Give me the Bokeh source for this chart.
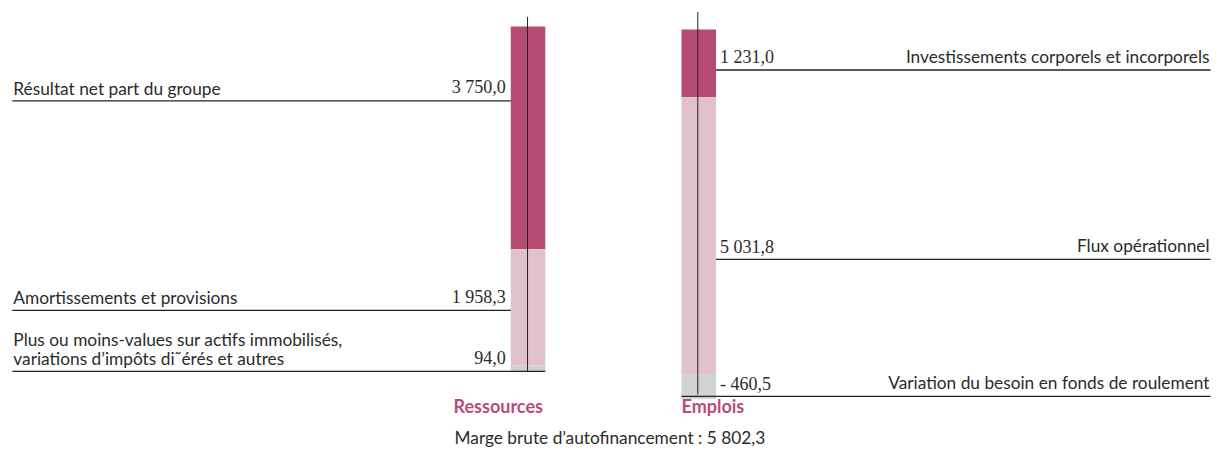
from bokeh.plotting import figure
from bokeh.models import Range1d
from bokeh.core.properties import value
from bokeh.embed import file_html
from bokeh.resources import INLINE

# ---------------- data ----------------
res_labels = ["Résultat net part du groupe",
              "Amortissements et provisions",
              "Plus ou moins-values sur actifs immobilisés,\nvariations d’impôts di˜érés et autres"]
res_values = [3750.0, 1958.3, 94.0]
emp_labels = ["Investissements corporels et incorporels",
              "Flux opérationnel",
              "Variation du besoin en fonds de roulement"]
emp_values = [1231.0, 5031.8, -460.5]
group_titles = ["Ressources", "Emplois"]
total_label = "Marge brute d’autofinancement"

# ---------------- styles / layout ----------------
seg_colors = ["#B54A73", "#E2C2CA", "#D1D2D4"]
title_color = "#B94B7A"
text_color = "#2b2b2b"
line_color = "#222222"
sans = value("Lato")
serif = value("Liberation Serif")
TXT_DY = 8  # baseline compensation

def fr(v):
    s = f"{abs(v):,.1f}".replace(",", " ").replace(".", ",")
    return ("- " + s) if v < 0 else s

# layout coordinates (reference-pixel units)
W_REF, H_REF = 1227, 465
L_X0, L_X1, L_TOP, L_BOT = 517, 552, 27, 384
R_X0, R_X1, R_TOP, R_BOT = 690, 725, 30, 413
left_line_y = [104, 321, 384]
right_line_y = [72, 268, 410]

p = figure(width=1211, height=449, x_range=Range1d(0, W_REF),
           y_range=Range1d(H_REF, 0), output_backend="svg",
           toolbar_location=None, min_border=0, outline_line_color=None,
           x_axis_location=None, y_axis_location=None)
p.grid.visible = False
p.background_fill_color = "white"
p.border_fill_color = "white"

# scales for the two stacked bars
res_total = sum(res_values)
k_l = (L_BOT - L_TOP) / res_total
p.extra_y_ranges["res"] = Range1d(start=(H_REF - L_TOP) / k_l, end=(0 - L_TOP) / k_l)
emp_abs_total = sum(abs(v) for v in emp_values)
k_r = (R_BOT - R_TOP) / emp_abs_total
p.extra_y_ranges["emp"] = Range1d(start=(H_REF - R_TOP) / k_r, end=(0 - R_TOP) / k_r)

# left stacked bar
tops, bots = [], []
c = 0.0
for v in res_values:
    tops.append(c); c += v; bots.append(c)
p.quad(left=[L_X0] * 3, right=[L_X1] * 3, top=tops, bottom=bots,
       fill_color=seg_colors, line_color=None, y_range_name="res")

# right stacked bar
tops, bots = [], []
c = 0.0
for v in emp_values:
    tops.append(c); c += abs(v); bots.append(c)
p.quad(left=[R_X0] * 3, right=[R_X1] * 3, top=tops, bottom=bots,
       fill_color=seg_colors, line_color=None, y_range_name="emp")

# central vertical rules
p.segment(x0=[534, 706.5], y0=[17, 12], x1=[534, 706.5], y1=[384, 408],
          line_color=line_color, line_width=1)

# horizontal label rules
p.segment(x0=[12, 12, 12], y0=left_line_y, x1=[L_X0, L_X0, L_X1], y1=left_line_y,
          line_color=line_color, line_width=1.3)
p.segment(x0=[R_X1, R_X1, R_X0], y0=right_line_y, x1=[1226, 1226, 1226], y1=right_line_y,
          line_color=line_color, line_width=1.3)

# left labels (split multi-line)
lx, ly, lt = [], [], []
for lab, yl in zip(res_labels, left_line_y):
    lines = lab.split("\n")
    n = len(lines)
    for i, ln in enumerate(lines):
        lx.append(13); ly.append(yl - 5 - TXT_DY - (n - 1 - i) * 20); lt.append(ln)
p.text(x=lx, y=ly, text=lt, text_align="left", text_baseline="alphabetic",
       text_font=sans, text_font_size=value("17.3px"), text_color=text_color)
p.text(x=[512] * 3, y=[yl - 6 - TXT_DY for yl in left_line_y], text=[fr(v) for v in res_values],
       text_align="right", text_baseline="alphabetic",
       text_font=serif, text_font_size=value("18px"), text_color=text_color)

# right labels
p.text(x=[1225] * 3, y=[yl - 6 - TXT_DY for yl in right_line_y], text=emp_labels,
       text_align="right", text_baseline="alphabetic",
       text_font=sans, text_font_size=value("17.3px"), text_color=text_color)
p.text(x=[729] * 3, y=[yl - 5 - TXT_DY for yl in right_line_y], text=[fr(v) for v in emp_values],
       text_align="left", text_baseline="alphabetic",
       text_font=serif, text_font_size=value("18px"), text_color=text_color)

# group titles
p.text(x=[459, 690], y=[428 - TXT_DY] * 2, text=group_titles, text_align="left",
       text_baseline="alphabetic", text_font=sans, text_font_size=value("18px"),
       text_font_style="bold", text_color=title_color)

# total
p.text(x=[460], y=[461 - TXT_DY], text=[f"{total_label} : {fr(res_total)}"], text_align="left",
       text_baseline="alphabetic", text_font=sans, text_font_size=value("17.3px"),
       text_color=text_color)

open("out.html", "w").write(file_html(p, INLINE))
